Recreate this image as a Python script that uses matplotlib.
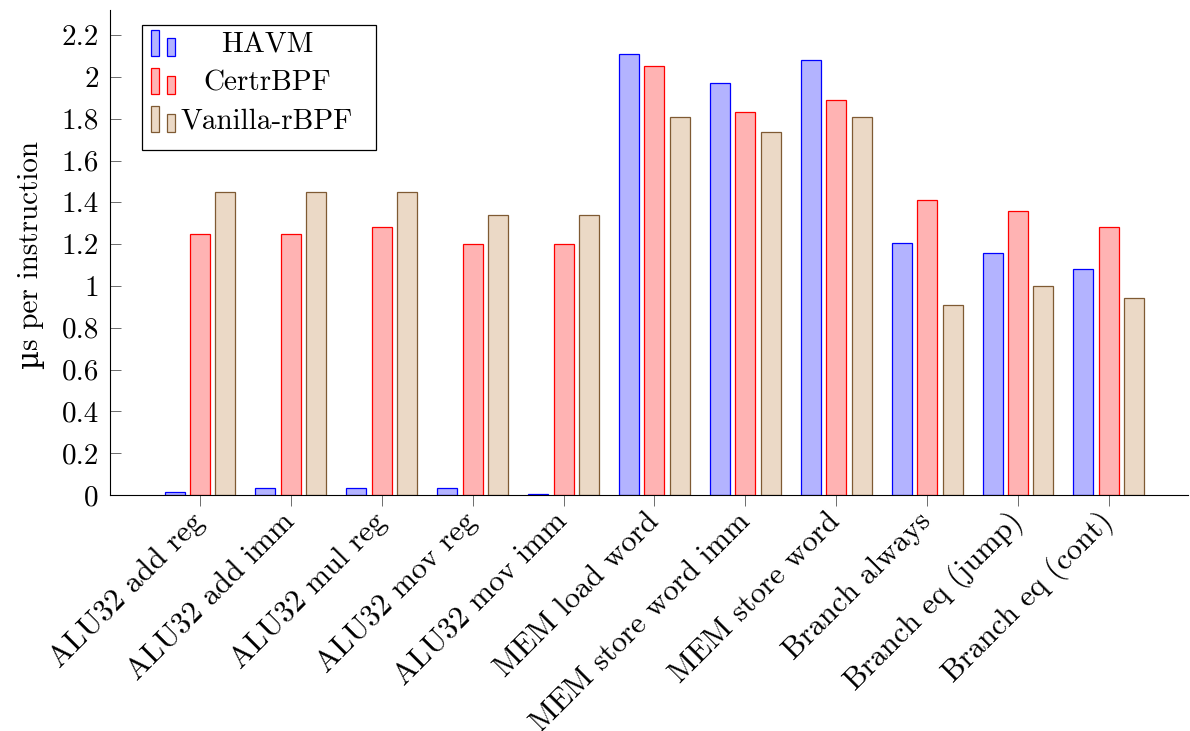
import matplotlib
matplotlib.use("Agg")
import matplotlib.pyplot as plt
from matplotlib.patches import Rectangle
import numpy as np

categories = [
    "ALU32 add reg",
    "ALU32 add imm",
    "ALU32 mul reg",
    "ALU32 mov reg",
    "ALU32 mov imm",
    "MEM load word",
    "MEM store word imm",
    "MEM store word",
    "Branch always",
    "Branch eq (jump)",
    "Branch eq (cont)",
]
havm = [0.016, 0.032, 0.032, 0.032, 0.003, 2.11, 1.97, 2.08, 1.205, 1.16, 1.08]
certrbpf = [1.25, 1.25, 1.28, 1.20, 1.20, 2.05, 1.83, 1.89, 1.41, 1.36, 1.28]
vanilla_rbpf = [1.45, 1.45, 1.45, 1.34, 1.34, 1.81, 1.735, 1.81, 0.91, 1.00, 0.94]
series_names = ["HAVM", "CertrBPF", "Vanilla-rBPF"]
yticks = [0, 0.2, 0.4, 0.6, 0.8, 1.0, 1.2, 1.4, 1.6, 1.8, 2.0, 2.2]
ytick_labels = ["0", "0.2", "0.4", "0.6", "0.8", "1", "1.2", "1.4", "1.6", "1.8", "2", "2.2"]
y_label_prefix = "µ"
y_label_rest = "s per instruction"

fills = ["#b3b3ff", "#ffb3b3", "#ebd9c6"]
edges = ["#0000ff", "#ff0000", "#7f5a33"]

plt.rcParams["font.family"] = ["cmr10", "DejaVu Serif"]
plt.rcParams["axes.unicode_minus"] = False
plt.rcParams["font.size"] = 21

W, H = 1190, 731
fig = plt.figure(figsize=(W / 100, H / 100), dpi=100)
ax = fig.add_axes([110 / W, 1 - 495 / H, (1188 - 110) / W, (495 - 10) / H])

x = np.arange(len(categories))
width = 0.22
offset = 0.28
for i, values in enumerate([havm, certrbpf, vanilla_rbpf]):
    ax.bar(x + (i - 1) * offset, values, width, color=fills[i],
           edgecolor=edges[i], linewidth=0.9)

ax.set_xlim(-0.99, 10.87)
ax.set_ylim(0, 2.32)
ax.spines["top"].set_visible(False)
ax.spines["right"].set_visible(False)
ax.spines["left"].set_linewidth(0.8)
ax.spines["bottom"].set_linewidth(0.8)

ax.set_yticks(yticks)
ax.set_yticklabels(ytick_labels)
ax.tick_params(axis="y", direction="in", length=8, width=0.6, color="#555555", pad=8)
ax.set_xticks(x)
ax.set_xticklabels(categories, rotation=45, ha="right", va="center",
                   rotation_mode="anchor", fontsize=22)
ax.tick_params(axis="x", direction="out", length=8, width=0.6, color="#555555", pad=8)


def px(xp, yp):
    return xp / W, 1 - yp / H


# y label in two parts: cmr10 has no proper micro sign
fig.canvas.draw()
renderer = fig.canvas.get_renderer()
mu = fig.text(0, 0, y_label_prefix, family="DejaVu Serif", fontsize=21,
              rotation=90, rotation_mode="anchor", ha="left", va="baseline")
rest = fig.text(0, 0, y_label_rest, fontsize=21,
                rotation=90, rotation_mode="anchor", ha="left", va="baseline")
mu_len = mu.get_window_extent(renderer).height
rest_len = rest.get_window_extent(renderer).height
total = mu_len + rest_len
base_x, mid_y = 38, 255
mu.set_position(px(base_x, mid_y + total / 2))
rest.set_position(px(base_x, mid_y + total / 2 - mu_len))

# legend drawn by hand so the labels can be centred like pgfplots does
x0, y0 = px(142, 150)
x1, y1 = px(376, 25)
fig.patches.append(Rectangle((x0, y0), x1 - x0, y1 - y0, transform=fig.transFigure,
                             facecolor="white", edgecolor="black", linewidth=0.9,
                             zorder=5))
row_y = [45, 83, 121]
for i, name in enumerate(series_names):
    yc = row_y[i]
    for bx, top in [(151, yc - 15), (167, yc - 7)]:
        bx0, by0 = px(bx, yc + 11)
        bx1, by1 = px(bx + 8, top)
        fig.patches.append(Rectangle((bx0, by0), bx1 - bx0, by1 - by0,
                                     transform=fig.transFigure, facecolor=fills[i],
                                     edgecolor=edges[i], linewidth=0.9, zorder=6))
    tx, ty = px(267, yc)
    fig.text(tx, ty, name, ha="center", va="center", zorder=7)

fig.savefig("out.png", dpi=100)
